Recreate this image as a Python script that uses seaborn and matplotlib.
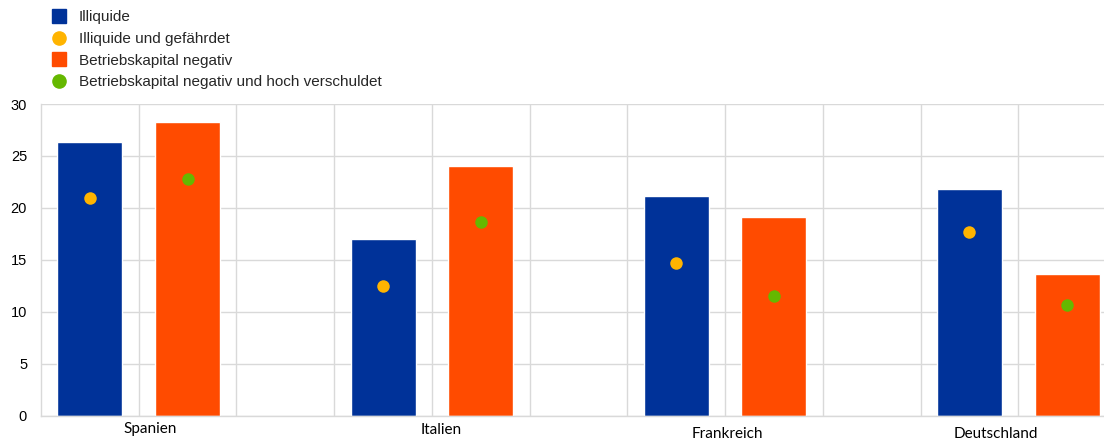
import numpy as np
import pandas as pd
import matplotlib
matplotlib.use("Agg")
import matplotlib.pyplot as plt
import seaborn as sns
from matplotlib.lines import Line2D
from matplotlib.transforms import blended_transform_factory, offset_copy

# Shares of firms by country (%)
countries = ["Spanien", "Italien", "Frankreich", "Deutschland"]
illiquide = [26.3, 17.0, 21.1, 21.8]
illiquide_gefaehrdet = [20.9, 12.5, 14.7, 17.7]
betriebskapital_neg = [28.3, 24.0, 19.1, 13.6]
betriebskapital_neg_verschuldet = [22.8, 18.6, 11.5, 10.6]

names = ["Illiquide", "Illiquide und gefährdet",
         "Betriebskapital negativ", "Betriebskapital negativ und hoch verschuldet"]
colors = {names[0]: "#003299", names[1]: "#FFB400",
          names[2]: "#FF4B00", names[3]: "#65B800"}

# Category slots: two bars per country, an empty slot between countries
slots, bar_rows, pt_rows = [], [], []
for i, c in enumerate(countries):
    a, b = f"{c}-a", f"{c}-b"
    slots += [a, b]
    if i < len(countries) - 1:
        slots.append(f"leer-{i}")
    bar_rows += [(a, illiquide[i], names[0]), (b, betriebskapital_neg[i], names[2])]
    pt_rows += [(a, illiquide_gefaehrdet[i], names[1]),
                (b, betriebskapital_neg_verschuldet[i], names[3])]
bars = pd.DataFrame(bar_rows, columns=["slot", "wert", "reihe"])
pts = pd.DataFrame(pt_rows, columns=["slot", "wert", "reihe"])

sns.set_theme(style="white")
plt.rcParams["font.family"] = ["Liberation Sans", "DejaVu Sans"]

fig = plt.figure(figsize=(11.04, 4.43), dpi=100)
ax = fig.add_axes([41 / 1104, 1 - 415.5 / 443, 1075 / 1104, 311.5 / 443])

sns.barplot(data=bars, x="slot", y="wert", hue="reihe", order=slots,
            palette=colors, dodge=False, width=0.665, saturation=1,
            legend=False, ax=ax, zorder=2)
sns.stripplot(data=pts, x="slot", y="wert", hue="reihe", order=slots,
              palette=colors, jitter=False, dodge=False, size=9,
              linewidth=0, legend=False, ax=ax, zorder=3)

ax.set_xlim(-0.5, len(slots) - 0.5)
ax.set_ylim(0, 30)
ax.set_yticks(np.arange(0, 31, 5))
ax.set_xticks([])
ax.set_xticks(np.arange(0.5, len(slots) - 1, 1), minor=True)
ax.tick_params(axis="x", which="both", length=0, labelbottom=False)
ax.tick_params(axis="y", length=0, pad=10, labelsize=10.5, labelcolor="#000000")
ax.set_xlabel("")
ax.set_ylabel("")
ax.set_axisbelow(True)
ax.grid(axis="y", color="#d9d9d9", linewidth=1)
ax.grid(axis="x", which="minor", color="#d9d9d9", linewidth=1)
for s in ["top", "right"]:
    ax.spines[s].set_visible(False)
for s in ["left", "bottom"]:
    ax.spines[s].set_color("#d9d9d9")
    ax.spines[s].set_linewidth(1)

# Country labels below the axis
label_x = [0.62, 3.59, 6.52, 9.27]
label_dy = [-13.5, -14.5, -18.5, -18.5]
trans = blended_transform_factory(ax.transData, ax.transAxes)
for c, x, dy in zip(countries, label_x, label_dy):
    t = offset_copy(trans, fig=fig, x=0, y=dy * 72 / 100, units="points")
    ax.text(x, 0, c, transform=t, ha="center", va="center",
            fontsize=11, family=["Lato", "DejaVu Sans"], color="#000000")

handles = [
    Line2D([], [], marker="s", linestyle="", markersize=9.5, color=colors[names[0]]),
    Line2D([], [], marker="o", linestyle="", markersize=9.5, color=colors[names[1]]),
    Line2D([], [], marker="s", linestyle="", markersize=9.5, color=colors[names[2]]),
    Line2D([], [], marker="o", linestyle="", markersize=9.5, color=colors[names[3]]),
]
fig.legend(handles, names, loc="upper left", bbox_to_anchor=(51.5 / 1104, 1 - 10.5 / 443),
           frameon=False, fontsize=11, labelspacing=0.5, handlelength=1.0,
           handletextpad=0.8, borderaxespad=0, borderpad=0)

fig.savefig("out.png", dpi=100)
